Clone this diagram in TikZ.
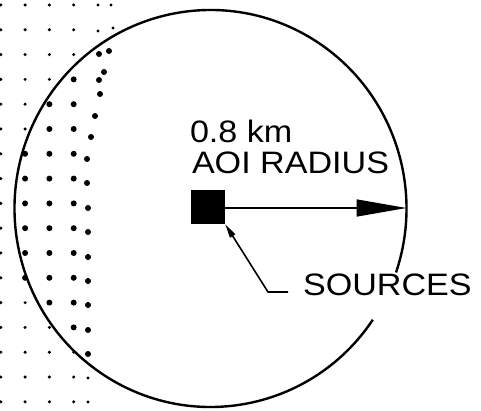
\documentclass[tikz,border=0pt]{standalone}
\usepackage{fontspec}
\newfontfamily\lab{Liberation Sans}
\usetikzlibrary{arrows.meta}
\begin{document}
\begin{tikzpicture}[x=1pt,y=-1pt,
  labeltext/.style={inner sep=0pt,outer sep=0pt,font=\lab\fontsize{31}{31}\selectfont},
  ring/.style={line width=2.4pt},
  radiusline/.style={line width=1.6pt,-{Triangle[length=50pt,width=17pt]}},
  leader/.style={line width=1.6pt,-{Triangle[length=14pt,width=6pt]}}]
\useasboundingbox (0,0) rectangle (481,411);
% dot grid
\foreach \c in {0,...,3}{
  \foreach \r in {0,...,16}{
    \pgfmathsetmacro{\px}{0.8+24.3*\c}
    \pgfmathsetmacro{\py}{5+24.8*\r}
    \pgfmathsetmacro{\big}{ (\c==1 && \r>=6 && \r<=11) || (\c==2 && \r>=4 && \r<=12) || (\c==3 && \r>=3 && \r<=13) ? 1 : 0}
    \ifdim\big pt>0.5pt
      \fill (\px,\py) circle (3.0);
    \else
      \fill (\px,\py) circle (1.7);
    \fi
  }
}
% irregular edge dots
\foreach \p in {(99,54),(109,51),(104,72),(99,80),(100,94),(95,116),(91,137),(87,159),(87,183),(88,208),(88,232),(88,257),(88,281),(88,305),(88,330),(88,354)}
  \fill \p circle (3.0);
\foreach \p in {(88,378),(88,402),(98,5),(111,5),(98,31),(113,28)}
  \fill \p circle (1.7);
% circle with gap for label
\coordinate (ctr) at (210.5,208.5);
\draw[ring] ([shift={(34.1:196 and 198.5)}]ctr) arc[start angle=34.1, end angle=378.8, x radius=196, y radius=198.5];
% source square
\node[fill=black,minimum width=34pt,minimum height=34pt,inner sep=0pt] (src) at (208,207) {};
\coordinate (edge) at (406.5,208);
\draw[radiusline] (src.east |- edge) -- (edge);
% labels
\node[labeltext,anchor=base west] (km) at (190,143) {\scalebox{1.1}[1]{0.8 km}};
\node[labeltext,anchor=base west] (aoi) at (192,174) {\scalebox{1.1}[1]{AOI RADIUS}};
\node[labeltext,anchor=base west] (srcl) at (303,295) {\scalebox{1.1}[1]{SOURCES}};
% leader
\coordinate (lk) at (268,292);
\coordinate (le) at (288,292);
\draw[leader] (le) -- (lk) -- (src.south east);
\end{tikzpicture}
\end{document}
